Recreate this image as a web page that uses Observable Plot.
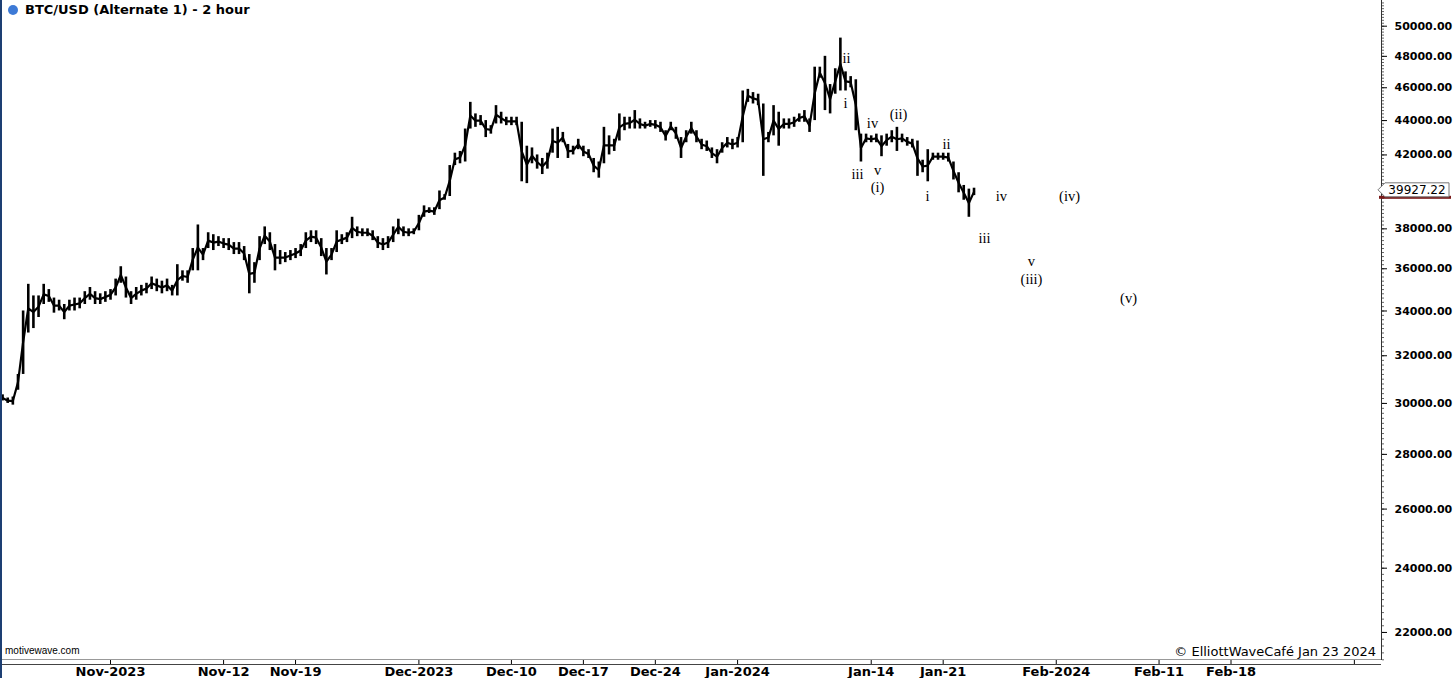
<!DOCTYPE html>
<html><head><meta charset="utf-8">
<script src="https://cdn.jsdelivr.net/npm/d3@7"></script>
<script src="https://cdn.jsdelivr.net/npm/@observablehq/plot@0.6"></script>
<style>
body{margin:0;background:#fff;}
#wrap{position:relative;width:1456px;height:678px;overflow:hidden;background:#fff;}
#wrap svg{position:absolute;left:0;top:0;}
.ov{position:absolute;white-space:nowrap;}
</style></head><body><div id="wrap"></div>
<script>
// ---- data: 12-hour high/low ranges ----
const firstBar = "2023-10-21T12:00:00Z";
const barHours = 12;
const highs = [
30350,30220,30260,31200,34000,35250,34700,34700,35250,35000,
34600,34500,34300,34500,34600,34600,34900,35100,34900,34800,
34900,35000,35500,36100,35600,34900,35100,35200,35300,35600,
35500,35400,35500,35200,36200,35900,35900,37000,38200,37000,
37800,37700,37600,37500,37500,37300,37300,37100,36700,36300,
37600,38100,37800,37200,36900,36800,36900,37000,37200,37800,
37900,37900,37500,37000,37000,37900,37700,37800,38600,38100,
38000,38000,37900,37600,37500,37600,38100,38500,38100,38000,
38000,38700,39200,39100,39100,40000,39800,41400,42100,42200,
43500,45100,44400,44300,44000,43700,44900,44500,44200,44200,
44200,43900,42500,42400,42000,41800,42100,43500,43600,43300,
42600,42500,42900,42500,42300,41800,41600,43600,43100,42900,
44400,44200,44200,44600,44100,43900,44000,44000,43900,43400,
43900,43600,43000,43400,43900,43400,42900,42800,42400,42300,
42700,43000,42900,43000,45800,45900,45700,45600,45000,43300,
44900,44500,44100,44100,44200,44400,44600,44100,47300,47300,
48000,46200,47200,49200,47000,46700,46500,43200,43200,43100,
43200,43100,43200,43400,43600,43200,43000,42900,42800,41700,
42300,42100,42100,42100,42100,41600,41000,40300,40100,40150];
const lows = [
30100,30000,29930,30540,31200,33000,33200,33700,34300,34400,
33900,34000,33600,34000,34000,34100,34300,34500,34300,34300,
34400,34500,34700,35300,34600,34300,34500,34700,34800,35000,
34900,34800,34900,34700,34700,35400,35300,35900,35900,36400,
37000,36900,37100,37000,36900,36700,36700,36400,34800,35300,
36400,37200,36900,35900,36200,36300,36400,36500,36600,37000,
37300,37200,36600,35700,36400,36800,37200,37300,37500,37600,
37600,37600,37400,37000,36900,37000,37300,37700,37600,37600,
37700,37900,38600,38800,38700,39000,39500,39700,41400,41500,
41600,43500,43600,43700,43000,43200,43800,43800,43700,43700,
43700,40500,40400,41500,41200,40900,41200,42100,41800,42700,
41800,42000,42300,41900,41800,41000,40700,41500,42000,42200,
42800,43400,43500,43500,43500,43500,43600,43500,43300,42800,
43400,42900,41800,42700,43200,42700,42300,42200,41800,41500,
42100,42400,42300,42400,42700,45100,45000,44900,40800,42700,
43100,42500,43500,43500,43600,43900,43900,43300,44000,46600,
44600,44400,45600,45800,45800,46000,43400,41600,42700,42700,
42700,41900,42500,42700,42200,42700,42500,42400,40800,41000,
40500,41700,41700,41700,41600,40600,39900,39500,38600,39750];
const lastPrice = 39927.22;

// ---- Elliott wave labels ----
const waveText  = ["ii","i","iii","iv","v","(i)","(ii)","ii","i","iv","(iv)","iii","v","(iii)","(v)"];
const waveDates = ["2024-01-11T14:24Z","2024-01-11T12:00Z","2024-01-12T16:00Z","2024-01-14T03:00Z","2024-01-14T14:40Z","2024-01-14T14:40Z","2024-01-16T15:40Z","2024-01-21T07:40Z","2024-01-19T11:20Z","2024-01-26T16:00Z","2024-02-02T07:00Z","2024-01-25T00:30Z","2024-01-29T14:10Z","2024-01-29T14:10Z","2024-02-08T00:40Z"];
const waveValues = [47900,45030,40900,43820,41130,40200,44360,42590,39710,39710,39710,37520,36370,35490,34590];

// ---- axes ----
const yTicks = [22000,24000,26000,28000,30000,32000,34000,36000,38000,40000,42000,44000,46000,48000,50000];
const xTickDates  = ["2023-11-01","2023-11-12","2023-11-19","2023-12-01","2023-12-10","2023-12-17","2023-12-24","2024-01-01","2024-01-14","2024-01-21","2024-02-01","2024-02-11","2024-02-18","2024-03-01"];
const xTickLabels = ["Nov-2023","Nov-12","Nov-19","Dec-2023","Dec-10","Dec-17","Dec-24","Jan-2024","Jan-14","Jan-21","Feb-2024","Feb-11","Feb-18",""];

// ---- build tables ----
const t0 = new Date(firstBar).getTime();
const bars = highs.map((h, i) => ({
  t: new Date(t0 + i * barHours * 3600e3),
  hi: h, lo: lows[i], mid: (h + lows[i]) / 2
}));
const waves = waveText.map((s, i) => ({text: s, t: new Date(waveDates[i]), v: waveValues[i]}));
const tickDates = xTickDates.map(d => new Date(d + "T00:00:00Z"));
const labelOf = new Map(tickDates.map((d, i) => [+d, xTickLabels[i]]));
const minorTicks = d3.range(21200, 51800, 200);
const fmt = d3.format(".2f");

const W = 1456, H = 678, mR = 75, mB = 18;
const chart = Plot.plot({
  width: W, height: H,
  marginLeft: 0, marginTop: 0, marginRight: mR, marginBottom: mB,
  style: {fontFamily: "DejaVu Sans", background: "transparent", overflow: "visible"},
  x: {type: "utc", domain: [new Date("2023-10-21T07:10:00Z"), new Date("2024-03-03T15:20:00Z")]},
  y: {type: "log", domain: [21180, 51770]},
  marks: [
    Plot.ruleX(bars, {x: "t", y1: "lo", y2: "hi", stroke: "#000", strokeWidth: 2.6}),
    Plot.line(bars, {x: "t", y: "mid", stroke: "#000", strokeWidth: 2.2}),
    Plot.text(waves, {x: "t", y: "v", text: "text", fontFamily: "Liberation Serif", fontSize: 14.5, fill: "#000"}),
    Plot.axisY({anchor: "right", ticks: minorTicks, tickSize: 2, tickFormat: () => "", stroke: "#666"}),
    Plot.axisY({anchor: "right", ticks: yTicks, tickSize: 5, tickPadding: 8,
      tickFormat: d => (Math.abs(d - lastPrice) / lastPrice < 0.02 ? "" : fmt(d)),
      fontSize: 11, fontWeight: "bold", fill: "#000", label: null}),
    Plot.axisX({anchor: "bottom", ticks: tickDates, tickSize: 4, tickPadding: 2,
      tickFormat: d => labelOf.get(+d), fontSize: 13, fontWeight: "bold", fill: "#000", label: null})
  ]
});
const wrap = document.getElementById("wrap");
wrap.appendChild(chart);

// frame lines
const svg = d3.select(chart);
const px = W - mR, py = H - mB;
svg.append("line").attr("x1", px + 0.5).attr("x2", px + 0.5).attr("y1", 0).attr("y2", py).attr("stroke", "#333");
svg.append("line").attr("x1", 0).attr("x2", px).attr("y1", py - 0.5).attr("y2", py - 0.5).attr("stroke", "#999");
svg.append("line").attr("x1", 0).attr("x2", px).attr("y1", py + 4.5).attr("y2", py + 4.5).attr("stroke", "#444");
svg.append("rect").attr("x", 0).attr("y", 0).attr("width", 2).attr("height", H).attr("fill", "#1d3f73");

// current price marker
const yP = chart.scale("y").apply(lastPrice);
svg.append("rect").attr("x", px - 2).attr("y", yP + 4).attr("width", 72).attr("height", 3).attr("fill", "#7a1a1a");
const g = svg.append("g");
g.append("path").attr("d", `M${px - 3},${yP - 2} L${px + 4},${yP - 9} L${px + 68},${yP - 9} L${px + 68},${yP + 5} L${px + 4},${yP + 5} Z`)
  .attr("fill", "#fff").attr("stroke", "#777");
g.append("text").attr("x", px + 36).attr("y", yP - 2).attr("dy", "0.35em").attr("text-anchor", "middle")
  .attr("font-size", 12).attr("font-family", "DejaVu Sans").attr("fill", "#000").text(lastPrice.toFixed(2));

// title and captions
const title = document.createElement("div");
title.className = "ov";
title.style.cssText = "left:8px;top:2px;font:bold 13px 'DejaVu Sans';color:#000;display:flex;align-items:center;";
title.innerHTML = '<span style="display:inline-block;width:10px;height:10px;border-radius:50%;background:#3d7ad6;margin-right:7px"></span>BTC/USD (Alternate 1) - 2 hour';
wrap.appendChild(title);

const mw = document.createElement("div");
mw.className = "ov";
mw.style.cssText = "left:5px;top:645px;font:10px 'Liberation Sans';color:#000;";
mw.textContent = "motivewave.com";
wrap.appendChild(mw);

const cr = document.createElement("div");
cr.className = "ov";
cr.style.cssText = "right:80px;top:644px;font:13px 'DejaVu Sans';color:#000;background:#fff;";
cr.textContent = "© ElliottWaveCafé Jan 23 2024";
wrap.appendChild(cr);
</script></body></html>
